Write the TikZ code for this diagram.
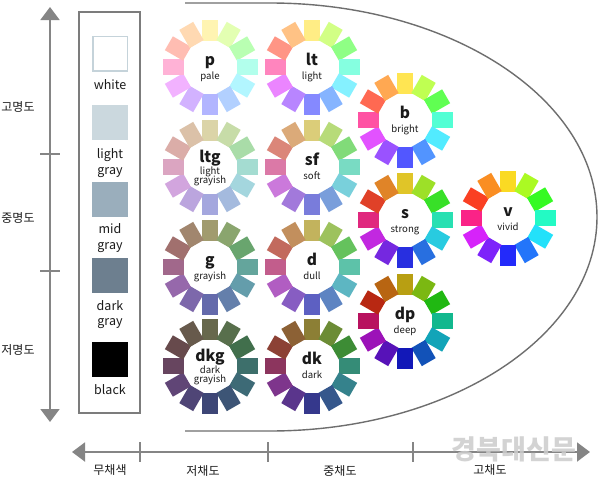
\PassOptionsToPackage{rgb}{xcolor}
\documentclass[tikz,border=0pt]{standalone}
\usepackage{fontspec}
\setmainfont{Noto Sans CJK KR}
\newfontfamily\krfont{Noto Sans CJK KR}
\usetikzlibrary{arrows.meta}
\definecolor{axisgray}{HTML}{858585}
\definecolor{framegray}{HTML}{7C7C7C}
\definecolor{curvegray}{HTML}{6E6E6E}
\definecolor{sqlight}{HTML}{CBD8DE}
\definecolor{sqmid}{HTML}{9AAEBC}
\definecolor{sqdark}{HTML}{6D7F8F}
\definecolor{sqwhiteborder}{HTML}{C5D3DA}
\definecolor{wmark}{HTML}{CCCCCC}
\definecolor{txt}{HTML}{1A1A1A}
\definecolor{basewhite}{HTML}{FFFFFF}
\definecolor{baseltg}{HTML}{C2C6CE}
\definecolor{baseg}{HTML}{7E8898}
\definecolor{basedkg}{HTML}{4A5A6A}
\tikzset{
  petal/.style={rectangle, inner sep=0pt, minimum width=21pt, minimum height=16pt},
  tonemain/.style={anchor=base, inner sep=0pt, text=txt, font=\fontsize{15.5}{15.5}\selectfont\bfseries},
  tonesub/.style={anchor=base, inner sep=0pt, text=txt, font=\fontsize{9.6}{9.6}\selectfont},
  swatch/.style={rectangle, inner sep=0pt, minimum width=36pt, minimum height=35pt},
  swlabel/.style={anchor=base, inner sep=0pt, text=txt, font=\fontsize{12.5}{12.5}\selectfont},
  krlabel/.style={inner sep=0pt, text=txt, font=\krfont\fontsize{12}{12}\selectfont},
  axisline/.style={draw=axisgray, line width=2pt},
  tipboth/.style={{Triangle[width=19pt,length=13pt]}-{Triangle[width=19pt,length=13pt]}},
}
% name, x, y, S, B, mix percent, base colour
\newcommand\tonewheel[7]{%
  \coordinate (#1) at (#2,#3);
  \foreach \i/\h in {0/51,1/82,2/115,3/165,4/187,5/217,6/238,7/265,8/290,9/332,10/8,11/30}{
    \pgfmathsetmacro\ang{90-30*\i}
    \definecolor{wctmp}{Hsb}{\h,#4,#5}
    \colorlet{wc}[rgb]{wctmp!#6!#7}
    \node[petal, fill=wc, rotate=\ang] (#1-p\i) at ([shift={(\ang:37pt)}]#1) {};
  }
}
\newcommand\tonelabel[3]{%
  \node[tonemain] (#1-m) at ([yshift=2pt]#1) {#2};
  \node[tonesub] (#1-s) at ([yshift=-12pt]#1) {#3};
}
\newcommand\tonelabelii[4]{%
  \node[tonemain] (#1-m) at ([yshift=5pt]#1) {#2};
  \node[tonesub] (#1-s) at ([yshift=-7.5pt]#1) {#3};
  \node[tonesub] (#1-t) at ([yshift=-16.5pt]#1) {#4};
}
\begin{document}
\begin{tikzpicture}[x=1pt,y=-1pt]
\fill[white] (0,0) rectangle (600,479);
\useasboundingbox (0,0) rectangle (600,479);

% big curved boundary
\draw[curvegray, line width=1.4pt] (185,3) -- (270,3)
  arc[start angle=90, end angle=-90, x radius=327pt, y radius=214pt] -- (185,431);

% vertical axis
\coordinate (vtop) at (50,7);
\coordinate (vbot) at (50,422);
\draw[axisline, tipboth] (vtop) -- (vbot);
\coordinate (vt1a) at (40,154); \coordinate (vt1b) at (60,154);
\coordinate (vt2a) at (40,271); \coordinate (vt2b) at (60,271);
\draw[axisline] (vt1a) -- (vt1b);
\draw[axisline] (vt2a) -- (vt2b);
\node[krlabel] (hiL) at (18,107) {고명도};
\node[krlabel] (midL) at (18,218) {중명도};
\node[krlabel] (loL) at (18,350) {저명도};

% horizontal axis
\coordinate (hleft) at (72,452);
\coordinate (hright) at (590,452);
\draw[axisline, tipboth] (hleft) -- (hright);
\foreach \x/\n in {140/a,268/b,413/c}{
  \coordinate (ht\n1) at (\x,442); \coordinate (ht\n2) at (\x,462);
  \draw[axisline] (ht\n1) -- (ht\n2);
}
\node[krlabel] (achrom) at (110,470) {무채색};
\node[krlabel] (lowC) at (203,471) {저채도};
\node[krlabel] (midC) at (340,471) {중채도};
\node[krlabel] (highC) at (490,470) {고채도};

% achromatic column
\draw[draw=framegray, line width=2pt] (79,12) rectangle (140,413);
\node[swatch, fill=white, draw=sqwhiteborder, line width=1.5pt, minimum width=34.5pt, minimum height=34.5pt] (swW) at (110,53.5) {};
\node[swlabel] (lbW) at (110,89) {white};
\node[swatch, fill=sqlight] (swL) at (110,122.5) {};
\node[swlabel] (lbL1) at (110,158) {light};
\node[swlabel] (lbL2) at (110,174) {gray};
\node[swatch, fill=sqmid] (swM) at (110,199) {};
\node[swlabel] (lbM1) at (110,233) {mid};
\node[swlabel] (lbM2) at (110,249) {gray};
\node[swatch, fill=sqdark] (swD) at (110,275.5) {};
\node[swlabel] (lbD1) at (110,310) {dark};
\node[swlabel] (lbD2) at (110,325) {gray};
\node[swatch, fill=black] (swB) at (110,359.5) {};
\node[swlabel] (lbB) at (110,394) {black};

% tone wheels
\tonewheel{p}{210}{67}{0.30}{1.00}{100}{basewhite}
\tonelabel{p}{p}{pale}
\tonewheel{lt}{312}{67}{0.48}{1.00}{100}{basewhite}
\tonelabel{lt}{lt}{light}
\tonewheel{ltg}{210}{167}{0.34}{0.90}{70}{baseltg}
\tonelabelii{ltg}{ltg}{light}{grayish}
\tonewheel{sf}{312}{167}{0.45}{0.86}{100}{basewhite}
\tonelabel{sf}{sf}{soft}
\tonewheel{g}{210}{267}{0.55}{0.72}{60}{baseg}
\tonelabel{g}{g}{grayish}
\tonewheel{d}{312}{267}{0.52}{0.76}{100}{basewhite}
\tonelabel{d}{d}{dull}
\tonewheel{dkg}{210}{366}{0.60}{0.50}{55}{basedkg}
\tonelabelii{dkg}{dkg}{dark}{grayish}
\tonewheel{dk}{312}{366}{0.62}{0.55}{100}{basewhite}
\tonelabel{dk}{dk}{dark}
\tonewheel{b}{405}{120}{0.68}{1.00}{100}{basewhite}
\tonelabel{b}{b}{bright}
\tonewheel{s}{405}{220}{0.82}{0.88}{100}{basewhite}
\tonelabel{s}{s}{strong}
\tonewheel{dp}{405}{321}{0.90}{0.72}{100}{basewhite}
\tonelabel{dp}{dp}{deep}
\tonewheel{v}{508}{218}{0.86}{0.98}{100}{basewhite}
\tonelabel{v}{v}{vivid}

% watermark
\node[inner sep=0pt, text=wmark, opacity=0.85, font=\krfont\bfseries\fontsize{27}{27}\selectfont] (wm) at (514,449) {경북대신문};
\end{tikzpicture}
\end{document}
